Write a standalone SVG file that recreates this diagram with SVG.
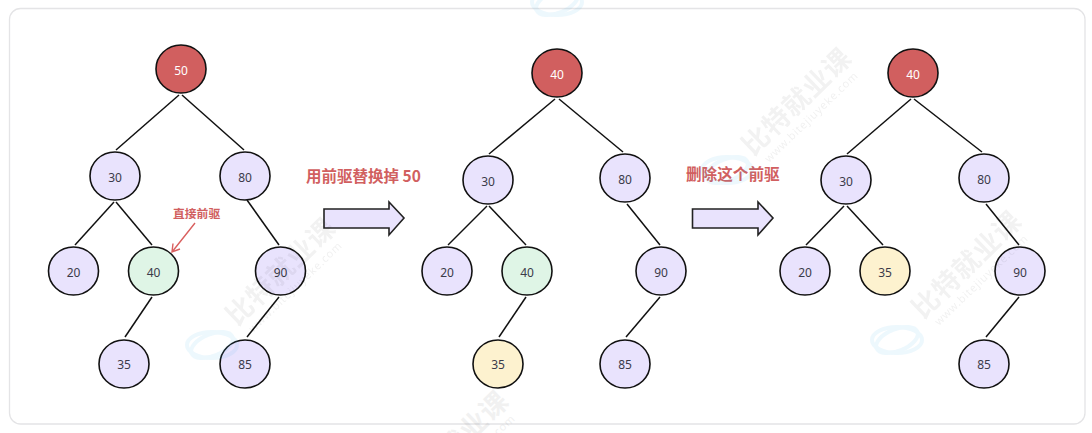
<svg xmlns="http://www.w3.org/2000/svg" width="1092" height="433" viewBox="0 0 1092 433">
<style>
.n{stroke:#111;stroke-width:1.6}
.p{fill:#e9e3fd}.r{fill:#d15f5f}.g{fill:#dff5e6}.y{fill:#fdf2cf}
.t{font:12px "Noto Sans","Noto Sans CJK SC",sans-serif;fill:#3b3b4a;text-anchor:middle;dominant-baseline:central}
.w{fill:#fff}
.e line{stroke:#111;stroke-width:1.5}
.h{font-family:"Noto Sans CJK SC","Noto Sans",sans-serif;font-weight:700;fill:#d15f5f}
.a{fill:#e9e3fd;stroke:#222;stroke-width:1.6}
.wm{font-family:"Noto Sans CJK SC",sans-serif;font-weight:700;font-size:27px;fill:#000;opacity:.05;letter-spacing:1px}
.ws{font-family:"Noto Sans",sans-serif;font-size:11px;fill:#000;opacity:.06;letter-spacing:.8px}
.lg{fill:none;stroke:#4db5e8;stroke-width:4;opacity:.1}
</style>
<defs>
<g id="logo"><ellipse rx="25" ry="13"/><ellipse rx="22" ry="11" transform="rotate(-22)"/></g>
</defs>
<rect width="1092" height="433" fill="#fff"/>
<rect x="9.500" y="8.500" width="1075.500" height="415.500" rx="11" fill="#fff" stroke="#e4e4e6" stroke-width="1.300"/>
<g id="connectors" class="e">
<line x1="179" y1="95" x2="116" y2="150"/><line x1="182" y1="95" x2="244" y2="150"/>
<line x1="114" y1="202" x2="75" y2="245"/><line x1="116" y1="202" x2="152" y2="245"/>
<line x1="247" y1="200" x2="279" y2="245"/><line x1="152" y1="297" x2="125" y2="337"/><line x1="279" y1="297" x2="247" y2="337"/>
<line x1="555" y1="99" x2="489" y2="154"/><line x1="559" y1="99" x2="623" y2="152"/>
<line x1="487" y1="206" x2="448" y2="245"/><line x1="489" y1="206" x2="526" y2="245"/>
<line x1="627" y1="204" x2="660" y2="245"/><line x1="526" y1="297" x2="499" y2="337"/><line x1="660" y1="297" x2="626" y2="337"/>
<line x1="911" y1="99" x2="847" y2="154"/><line x1="914" y1="99" x2="982" y2="152"/>
<line x1="844" y1="206" x2="806" y2="245"/><line x1="847" y1="206" x2="883" y2="245"/>
<line x1="986" y1="204" x2="1019" y2="245"/><line x1="1019" y1="297" x2="986" y2="337"/>
</g>
<g id="pointer" fill="none" stroke="#d9605f" stroke-width="1.400"><path d="M195 223L172 252M173 243.500L172 252L180 249"/></g>
<g id="a-50"><ellipse class="n r" cx="181" cy="69" rx="25" ry="24"/><text class="t w" x="181" y="70">50</text></g>
<g id="a-30"><ellipse class="n p" cx="115" cy="176" rx="25" ry="24"/><text class="t" x="115" y="177">30</text></g>
<g id="a-80"><ellipse class="n p" cx="245" cy="176" rx="25" ry="24"/><text class="t" x="245" y="177">80</text></g>
<g id="a-20"><ellipse class="n p" cx="73.500" cy="271" rx="25" ry="24"/><text class="t" x="73.500" y="272">20</text></g>
<g id="a-40"><ellipse class="n g" cx="153.500" cy="271" rx="25" ry="24"/><text class="t" x="153.500" y="272">40</text></g>
<g id="a-90"><ellipse class="n p" cx="280.500" cy="271" rx="25" ry="24"/><text class="t" x="280.500" y="272">90</text></g>
<g id="a-35"><ellipse class="n p" cx="124" cy="364" rx="25" ry="24"/><text class="t" x="124" y="364">35</text></g>
<g id="a-85"><ellipse class="n p" cx="245" cy="364" rx="25" ry="24"/><text class="t" x="245" y="364">85</text></g>
<g id="b-40r"><ellipse class="n r" cx="557" cy="73" rx="25" ry="24"/><text class="t w" x="557" y="74">40</text></g>
<g id="b-30"><ellipse class="n p" cx="488" cy="180" rx="25" ry="24"/><text class="t" x="488" y="181">30</text></g>
<g id="b-80"><ellipse class="n p" cx="625" cy="178" rx="25" ry="24"/><text class="t" x="625" y="179">80</text></g>
<g id="b-20"><ellipse class="n p" cx="447" cy="271" rx="25" ry="24"/><text class="t" x="447" y="272">20</text></g>
<g id="b-40"><ellipse class="n g" cx="527" cy="271" rx="25" ry="24"/><text class="t" x="527" y="272">40</text></g>
<g id="b-90"><ellipse class="n p" cx="661" cy="271" rx="25" ry="24"/><text class="t" x="661" y="272">90</text></g>
<g id="b-35"><ellipse class="n y" cx="498" cy="364" rx="25" ry="24"/><text class="t" x="498" y="364">35</text></g>
<g id="b-85"><ellipse class="n p" cx="625" cy="364" rx="25" ry="24"/><text class="t" x="625" y="364">85</text></g>
<g id="c-40"><ellipse class="n r" cx="913" cy="73" rx="25" ry="24"/><text class="t w" x="913" y="74">40</text></g>
<g id="c-30"><ellipse class="n p" cx="846" cy="180" rx="25" ry="24"/><text class="t" x="846" y="181">30</text></g>
<g id="c-80"><ellipse class="n p" cx="984" cy="178" rx="25" ry="24"/><text class="t" x="984" y="179">80</text></g>
<g id="c-20"><ellipse class="n p" cx="805" cy="271" rx="25" ry="24"/><text class="t" x="805" y="272">20</text></g>
<g id="c-35"><ellipse class="n y" cx="885" cy="271" rx="25" ry="24"/><text class="t" x="885" y="272">35</text></g>
<g id="c-90"><ellipse class="n p" cx="1020" cy="271" rx="25" ry="24"/><text class="t" x="1020" y="272">90</text></g>
<g id="c-85"><ellipse class="n p" cx="984" cy="364" rx="25" ry="24"/><text class="t" x="984" y="364">85</text></g>
<g id="arrow-1"><path class="a" d="M324 209H389V202L404 218L389 235V228H324Z"/></g>
<g id="arrow-2"><path class="a" d="M692.500 209H758V202L773 218L758 235V228H692.500Z"/></g>
<g id="labels">
<text class="h" x="173" y="218" font-size="11.800">直接前驱</text>
<text class="h" x="306" y="182" font-size="15.500">用前驱替换掉 50</text>
<text class="h" x="686" y="180" font-size="15.600">删除这个前驱</text>
</g>
<g id="watermarks">
<g class="lg"><use href="#logo" x="212" y="345"/><use href="#logo" x="557" y="2"/><use href="#logo" x="727" y="170"/><use href="#logo" x="897" y="340"/></g>
<text class="wm" transform="translate(237 327) rotate(-44)">比特就业课</text>
<text class="ws" transform="translate(253 333) rotate(-44)">www.bitejiuyeke.com</text>
<text class="wm" transform="translate(753 157) rotate(-44)">比特就业课</text>
<text class="ws" transform="translate(769 163) rotate(-44)">www.bitejiuyeke.com</text>
<text class="wm" transform="translate(923 320) rotate(-44)">比特就业课</text>
<text class="ws" transform="translate(939 326) rotate(-44)">www.bitejiuyeke.com</text>
<text class="wm" transform="translate(410 500) rotate(-44)">比特就业课</text>
<text class="ws" transform="translate(426 506) rotate(-44)">www.bitejiuyeke.com</text>
</g>
</svg>
